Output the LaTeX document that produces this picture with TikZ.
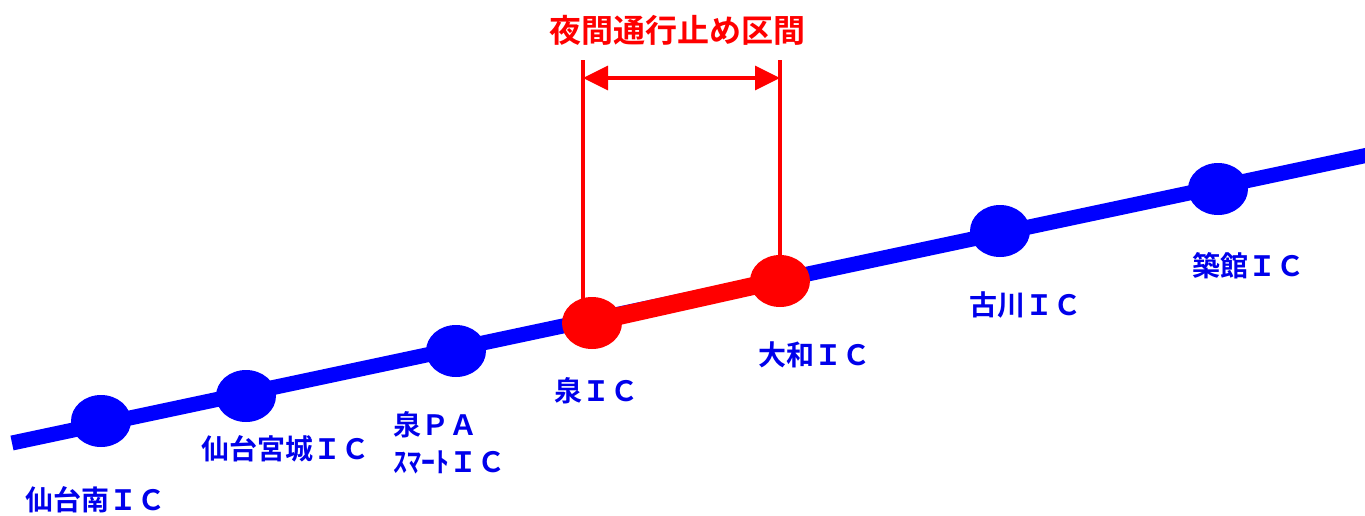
\documentclass[tikz,border=0pt]{standalone}
\usepackage{fontspec}
\newfontfamily\jp{Noto Sans CJK JP}[BoldFont={Noto Sans CJK JP Bold}]
\usetikzlibrary{arrows.meta}
\definecolor{roadblue}{RGB}{0,0,255}
\definecolor{labblue}{RGB}{0,0,235}
\definecolor{roadred}{RGB}{255,0,0}
\tikzset{
  road/.style={line width=15pt, roadblue},
  closed/.style={line width=18pt, roadred},
  icdot/.style={ellipse, fill=roadblue, minimum width=60pt, minimum height=52pt, inner sep=0pt},
  reddot/.style={ellipse, fill=roadred, minimum width=60pt, minimum height=52pt, inner sep=0pt},
  lab/.style={font=\jp\bfseries\fontsize{28}{32}\selectfont, text=labblue, inner sep=0pt},
  guide/.style={line width=3.2pt, roadred},
}
\usetikzlibrary{shapes.geometric}
\begin{document}
\begin{tikzpicture}[x=1pt,y=-1pt]
\useasboundingbox (0,0) rectangle (1365,515);
\coordinate (L) at (12,443);
\coordinate (R) at (1368,155);
\draw[road] (L) -- (R);
\node[icdot] (d1) at (101,421) {};
\node[icdot] (d2) at (246,396) {};
\node[icdot] (d3) at (456,351) {};
\node[icdot] (d6) at (1000,231) {};
\node[icdot] (d7) at (1218,189) {};
\draw[closed] (592,322) -- (780,280);
\node[reddot] (d4) at (592,323) {};
\node[reddot] (d5) at (780,281) {};
% guides
\coordinate (g1t) at (583,60);
\coordinate (g2t) at (780,60);
\draw[guide] (g1t) -- (583,312);
\draw[guide] (g2t) -- (780,256);
\coordinate (a1) at (583,78);
\coordinate (a2) at (780,78);
\draw[guide, {Triangle[length=25pt,width=24pt]}-{Triangle[length=25pt,width=24pt]}] (a1) -- (a2);
\node[font=\jp\bfseries\fontsize{32}{36}\selectfont, text=roadred, inner sep=0pt] (title) at (677,30) {夜間通行止め区間};
% labels
\node[lab] (l1) at (95,500) {仙台南ＩＣ};
\node[lab] (l2) at (285,449) {仙台宮城ＩＣ};
\node[lab, anchor=west] (l3a) at (393,425) {泉ＰＡ};
\node[lab, anchor=west] (l3b) at (393,462) {ｽﾏｰﾄＩＣ};
\node[lab] (l4) at (596,391) {泉ＩＣ};
\node[lab] (l5) at (814,355) {大和ＩＣ};
\node[lab] (l6) at (1025,305) {古川ＩＣ};
\node[lab] (l7) at (1248,266) {築館ＩＣ};
\end{tikzpicture}
\end{document}
